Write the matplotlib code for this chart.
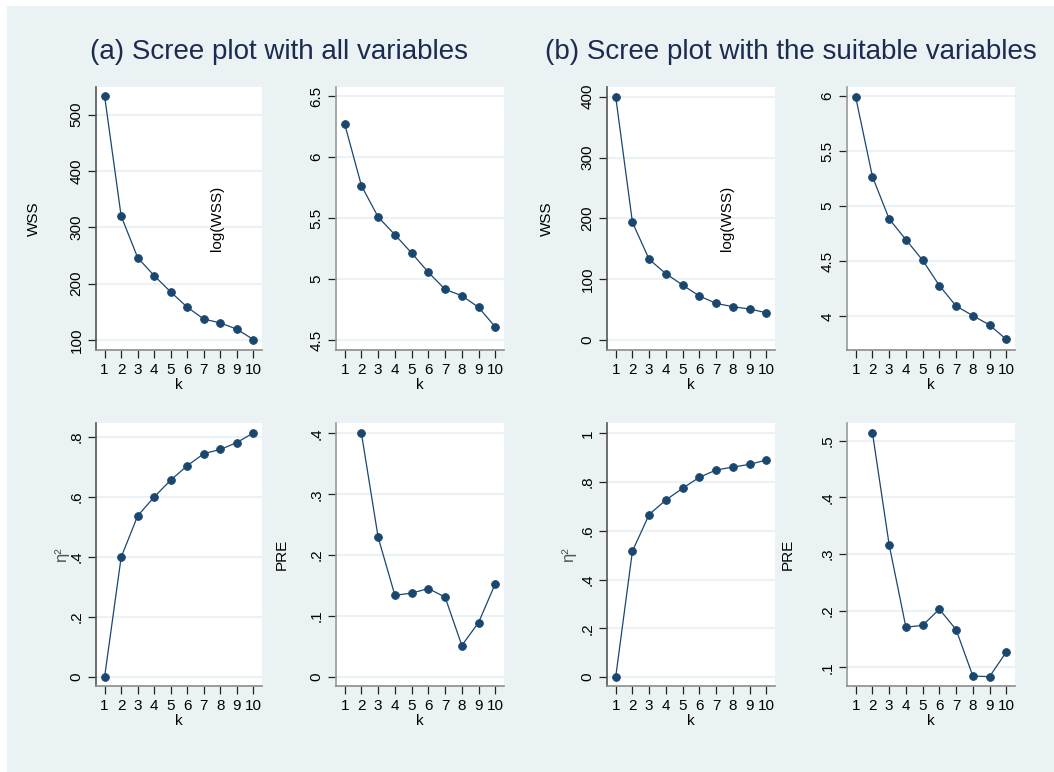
import numpy as np
import matplotlib.pyplot as plt
from matplotlib.patches import Rectangle

plt.rcParams['font.family'] = ['Liberation Sans', 'DejaVu Sans']

k = np.arange(1, 11)

# (a) all variables
wss_a = [533, 320, 246, 214, 185, 158, 137, 130, 119, 100.5]
logwss_a = [6.27, 5.765, 5.508, 5.363, 5.213, 5.055, 4.915, 4.863, 4.768, 4.607]
eta_a = [0.0, 0.398, 0.536, 0.599, 0.655, 0.703, 0.743, 0.757, 0.780, 0.812]
pre_a = [np.nan, 0.400, 0.229, 0.134, 0.1376, 0.145, 0.131, 0.0515, 0.0893, 0.153]

# (b) the suitable variables
wss_b = [400, 193.5, 132.6, 109, 90.4, 72.3, 60.3, 54.8, 51, 44.9]
logwss_b = [5.99, 5.268, 4.884, 4.696, 4.509, 4.279, 4.093, 4.006, 3.921, 3.79]
eta_b = [0.0, 0.517, 0.667, 0.727, 0.775, 0.820, 0.850, 0.862, 0.873, 0.891]
pre_b = [np.nan, 0.514, 0.316, 0.1707, 0.174, 0.2025, 0.1665, 0.0846, 0.0835, 0.127]

titles = ["(a) Scree plot with all variables", "(b) Scree plot with the suitable variables"]

W, H = 1054, 772
fig = plt.figure(figsize=(W / 100, H / 100), dpi=100)
fig.patch.set_facecolor('white')
fig.patches.append(Rectangle((7 / W, 0), 1, 1 - 6 / H, transform=fig.transFigure,
                             facecolor='#EAF2F3', edgecolor='none', zorder=-10))

NAVY = '#1A476F'
GRID = '#EAF2F3'


def make_ax(x0, x1, y0, y1):
    return fig.add_axes([x0 / W, 1 - y1 / H, (x1 - x0) / W, (y1 - y0) / H])


def style(ax, y, yticks, yticklabels, ylim, spine_col):
    ax.plot(k, y, color=NAVY, lw=0.9, marker='o', ms=5.6, mfc=NAVY, mec=NAVY, mew=0.6, zorder=3)
    ax.set_xlim(0.48, 10.52)
    ax.set_ylim(*ylim)
    ax.set_xticks(k)
    ax.set_xticklabels([str(i) for i in k], fontsize=11)
    ax.set_yticks(yticks)
    ax.set_yticklabels(yticklabels, fontsize=11, rotation=90, va='center')
    ax.grid(axis='y', color=GRID, lw=1.5, zorder=0)
    ax.set_axisbelow(True)
    for s in ['top', 'right']:
        ax.spines[s].set_visible(False)
    ax.spines['left'].set_color(spine_col)
    ax.spines['bottom'].set_color('#8C8C8C')
    ax.spines['left'].set_linewidth(1.2)
    ax.spines['bottom'].set_linewidth(1.2)
    ax.tick_params(axis='both', direction='out', length=6, width=0.9, color='#222222', pad=3)
    ax.set_xlabel('k', fontsize=11, labelpad=1)
    ax.set_facecolor('white')


cols = [(96, 262), (336, 504), (607, 775), (847, 1015)]
top_row = (87, 350)
bot_row = (423, 686)

# (a) top-left: WSS
ax = make_ax(*cols[0], *top_row)
style(ax, wss_a, [100, 200, 300, 400, 500], ['100', '200', '300', '400', '500'], (82, 549), '#555555')
ax.set_ylabel('WSS', fontsize=11)
ax.yaxis.set_label_coords(-0.331, 0.5)
ax.text(0.73, 0.5, 'log(WSS)', transform=ax.transAxes, rotation=90, fontsize=11,
        ha='center', va='center')

# (a) top-right: log(WSS)
ax = make_ax(*cols[1], *top_row)
style(ax, logwss_a, [4.5, 5, 5.5, 6, 6.5], ['4.5', '5', '5.5', '6', '6.5'], (4.418, 6.574), '#999999')

# (a) bottom-left: eta^2
ax = make_ax(*cols[0], *bot_row)
style(ax, eta_a, [0, 0.2, 0.4, 0.6, 0.8], ['0', '.2', '.4', '.6', '.8'], (-0.03, 0.845), '#555555')
ax.set_ylabel('η²', fontsize=12, color='#555555')
ax.yaxis.set_label_coords(-0.163, 0.5)

# (a) bottom-right: PRE
ax = make_ax(*cols[1], *bot_row)
style(ax, pre_a, [0, 0.1, 0.2, 0.3, 0.4], ['0', '.1', '.2', '.3', '.4'], (-0.015, 0.417), '#999999')
ax.set_ylabel('PRE', fontsize=11)
ax.yaxis.set_label_coords(-0.28, 0.5)

# (b) top-left: WSS
ax = make_ax(*cols[2], *top_row)
style(ax, wss_b, [0, 100, 200, 300, 400], ['0', '100', '200', '300', '400'], (-16.4, 416), '#555555')
ax.set_ylabel('WSS', fontsize=11)
ax.yaxis.set_label_coords(-0.315, 0.5)
ax.text(0.714, 0.5, 'log(WSS)', transform=ax.transAxes, rotation=90, fontsize=11,
        ha='center', va='center')

# (b) top-right: log(WSS)
ax = make_ax(*cols[3], *top_row)
style(ax, logwss_b, [4, 4.5, 5, 5.5, 6], ['4', '4.5', '5', '5.5', '6'], (3.694, 6.082), '#999999')

# (b) bottom-left: eta^2
ax = make_ax(*cols[2], *bot_row)
style(ax, eta_b, [0, 0.2, 0.4, 0.6, 0.8, 1], ['0', '.2', '.4', '.6', '.8', '1'], (-0.037, 1.043), '#555555')
ax.set_ylabel('η²', fontsize=12, color='#555555')
ax.yaxis.set_label_coords(-0.185, 0.5)

# (b) bottom-right: PRE
ax = make_ax(*cols[3], *bot_row)
style(ax, pre_b, [0.1, 0.2, 0.3, 0.4, 0.5], ['.1', '.2', '.3', '.4', '.5'], (0.067, 0.531), '#999999')
ax.set_ylabel('PRE', fontsize=11)
ax.yaxis.set_label_coords(-0.31, 0.5)

fig.text(279 / W, 1 - 52 / H, titles[0], fontsize=20, color='#1C2B4F', ha='center', va='center')
fig.text(791 / W, 1 - 52 / H, titles[1], fontsize=20, color='#1C2B4F', ha='center', va='center')

fig.savefig('out.png', dpi=100, facecolor=fig.get_facecolor())
